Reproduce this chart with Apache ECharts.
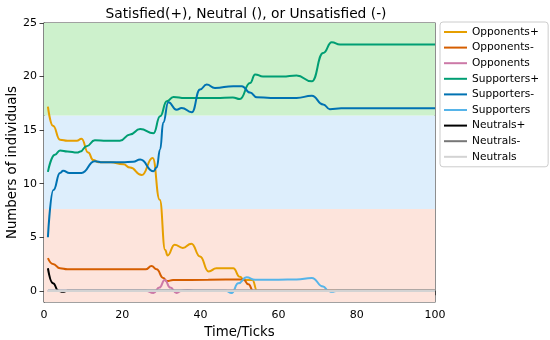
<!DOCTYPE html>
<html>
<head>
<meta charset="utf-8">
<script src="https://cdn.jsdelivr.net/npm/echarts@6/dist/echarts.min.js"></script>
<style>
html,body{margin:0;padding:0;background:#fff;}
#chart{width:550px;height:340px;}
</style>
</head>
<body>
<div id="chart"></div>
<script>
// ---- data ----
const titleText = 'Satisfied(+), Neutral (), or Unsatisfied (-)';
const xLabel = 'Time/Ticks';
const yLabel = 'Numbers of individuals';
const seriesNames = ['Opponents+', 'Opponents-', 'Opponents', 'Supporters+', 'Supporters-', 'Supporters', 'Neutrals+', 'Neutrals-', 'Neutrals'];
const seriesColors = ['#E69F00', '#D55E00', '#CC79A7', '#009E73', '#0072B2', '#56B4E9', '#000000', '#777777', '#d3d3d3'];
const yTicks = [0, 5, 10, 15, 20, 25];
const bandEdges = [-1.05, 7.63, 16.37, 25];
const bandColors = ['#fde4dc', '#ddeefc', '#cdf1cc'];

const opponentsPlus = [[1,17.2],[2.3,15.4],[4.1,14.1],[6,14.0],[8.4,14.0],[9.6,14.2],[11.3,12.9],[12.6,12.2],[14,12.0],[17,12.0],[20.3,11.8],[22,11.5],[25,10.8],[27.8,12.4],[29.6,8.5],[31,3.8],[31.6,3.3],[33.4,4.3],[35.5,4.0],[37.7,4.4],[39.9,3.2],[42.1,1.8],[44.1,2.1],[48.4,2.1],[50.1,1.3],[51.2,1.0],[53.3,1.0],[54.5,0],[60,0],[80,0],[100,0]];
const opponentsMinus = [[1,3.05],[2.3,2.5],[4.1,2.1],[6,2.0],[26,2.0],[27.5,2.3],[28.8,2.0],[30.5,1.2],[31.4,0.9],[33,1.0],[42,1.03],[51,1.05],[52.3,0.6],[53.5,0],[60,0],[80,0],[100,0]];
const opponents = [[1,0],[20,0],[26,0],[28,-0.2],[29.5,0.3],[30.9,1.0],[32.3,0.3],[33.9,-0.2],[35.2,0],[36.7,0.08],[38.2,0],[60,0],[100,0]];
const supportersPlus = [[1,11.1],[2.8,12.7],[4.1,13.1],[6,13.0],[8.5,12.9],[9.3,13.0],[10.9,13.5],[13,14.05],[16,14.0],[19.4,14.0],[22,14.6],[24.6,15.1],[28,14.7],[29.7,16.3],[31.4,17.7],[33.1,18.1],[36,18.0],[44,18.0],[48.3,18.05],[50.1,17.9],[52.7,19.4],[54,20.2],[56,20.0],[61,20.0],[64.6,20.1],[68.5,19.55],[71.4,22.2],[73.6,23.2],[75.7,23.0],[85,23.0],[100,23.0]];
const supportersMinus = [[1,5.0],[2.4,9.4],[4.1,11.0],[4.9,11.2],[6.5,11.0],[9.6,11.0],[13,12.1],[15,12.0],[20,12.0],[22.8,12.05],[24.6,12.25],[28,11.15],[28.8,11.5],[29.7,13.2],[30.5,15.7],[31.8,17.6],[33.9,16.9],[35.2,17.07],[37.8,16.67],[39.9,18.8],[41.6,19.25],[43.7,18.94],[48.4,19.1],[50.6,19.1],[52.7,18.5],[54.4,18.07],[58,18.0],[64.6,18.0],[68.5,18.2],[71.4,17.4],[73.1,16.95],[76,17.03],[85,17.03],[100,17.03]];
const supporters = [[1,0],[30,0],[46.5,0],[48,-0.2],[49.7,0.7],[51.8,1.25],[54,1.03],[60,1.03],[64.6,1.05],[68.5,1.2],[71.4,0.4],[72.7,0],[73.6,-0.1],[75,0],[100,0]];
const neutralsPlus = [[1,2.1],[2.3,0.7],[3.7,0],[4.8,-0.1],[6,0],[50,0],[100,0]];
const neutralsMinus = [[1,0],[50,0],[100,0]];
const neutrals = [[1,0],[50,0],[100,0]];
const seriesData = [opponentsPlus, opponentsMinus, opponents, supportersPlus, supportersMinus, supporters, neutralsPlus, neutralsMinus, neutrals];

// ---- chart ----
const chart = echarts.init(document.getElementById('chart'), null, {renderer: 'canvas'});
const font = 'DejaVu Sans';

const bands = [];
for (let i = 0; i < bandColors.length; i++) {
  bands.push([{yAxis: bandEdges[i], itemStyle: {color: bandColors[i]}}, {yAxis: bandEdges[i + 1]}]);
}

const series = [{
  name: '__bands',
  type: 'line',
  data: [],
  z: 0,
  silent: true,
  markArea: {silent: true, itemStyle: {opacity: 1}, data: bands}
}];
seriesNames.forEach((n, i) => {
  series.push({
    name: n,
    type: 'line',
    data: seriesData[i],
    symbol: 'none',
    smooth: 0.5,
    smoothMonotone: 'x',
    z: 2,
    lineStyle: {color: seriesColors[i], width: n === 'Neutrals' ? 2.4 : 2},
    itemStyle: {color: seriesColors[i]}
  });
});

chart.setOption({
  animation: false,
  title: {
    text: titleText,
    left: 241, top: 2, textAlign: 'center',
    textStyle: {fontFamily: font, fontSize: 13.8, fontWeight: 'normal', color: '#000'}
  },
  legend: {
    data: seriesNames,
    orient: 'vertical',
    left: 440, top: 22,
    itemWidth: 23, itemHeight: 12, itemGap: 3.6,
    padding: [4, 9, 4, 3],
    borderColor: '#cccccc', borderWidth: 1, borderRadius: 3,
    backgroundColor: '#ffffff',
    itemStyle: {color: 'transparent', borderColor: 'transparent', borderWidth: 0, opacity: 0},
    lineStyle: {width: 2},
    textStyle: {fontFamily: font, fontSize: 10.6, color: '#000', lineHeight: 12}
  },
  grid: {left: 44, right: 115, top: 23, bottom: 38, containLabel: false, outerBoundsMode: 'none', show: true, borderColor: '#444', borderWidth: 1.2, backgroundColor: 'transparent'},
  xAxis: {
    type: 'value', min: 0, max: 100, interval: 20,
    name: xLabel, nameLocation: 'middle', nameGap: 24,
    nameTextStyle: {fontFamily: font, fontSize: 13.3, color: '#000'},
    axisLine: {show: true, lineStyle: {color: '#444', width: 1.2}},
    axisTick: {show: true, length: 4.5, lineStyle: {color: '#444'}},
    axisLabel: {fontFamily: font, fontSize: 11, color: '#000', margin: 8},
    splitLine: {show: false}
  },
  yAxis: {
    type: 'value', min: bandEdges[0], max: 25,
    name: yLabel, nameLocation: 'middle', nameGap: 25, nameRotate: 90, nameMoveOverlap: false,
    nameTextStyle: {fontFamily: font, fontSize: 13.3, color: '#000'},
    axisLine: {show: true, lineStyle: {color: '#444', width: 1.2}},
    axisTick: {show: true, length: 4.5, lineStyle: {color: '#444'}, customValues: yTicks},
    axisLabel: {fontFamily: font, fontSize: 11, color: '#000', margin: 7, customValues: yTicks},
    splitLine: {show: false}
  },
  series: series
});
</script>
</body>
</html>
